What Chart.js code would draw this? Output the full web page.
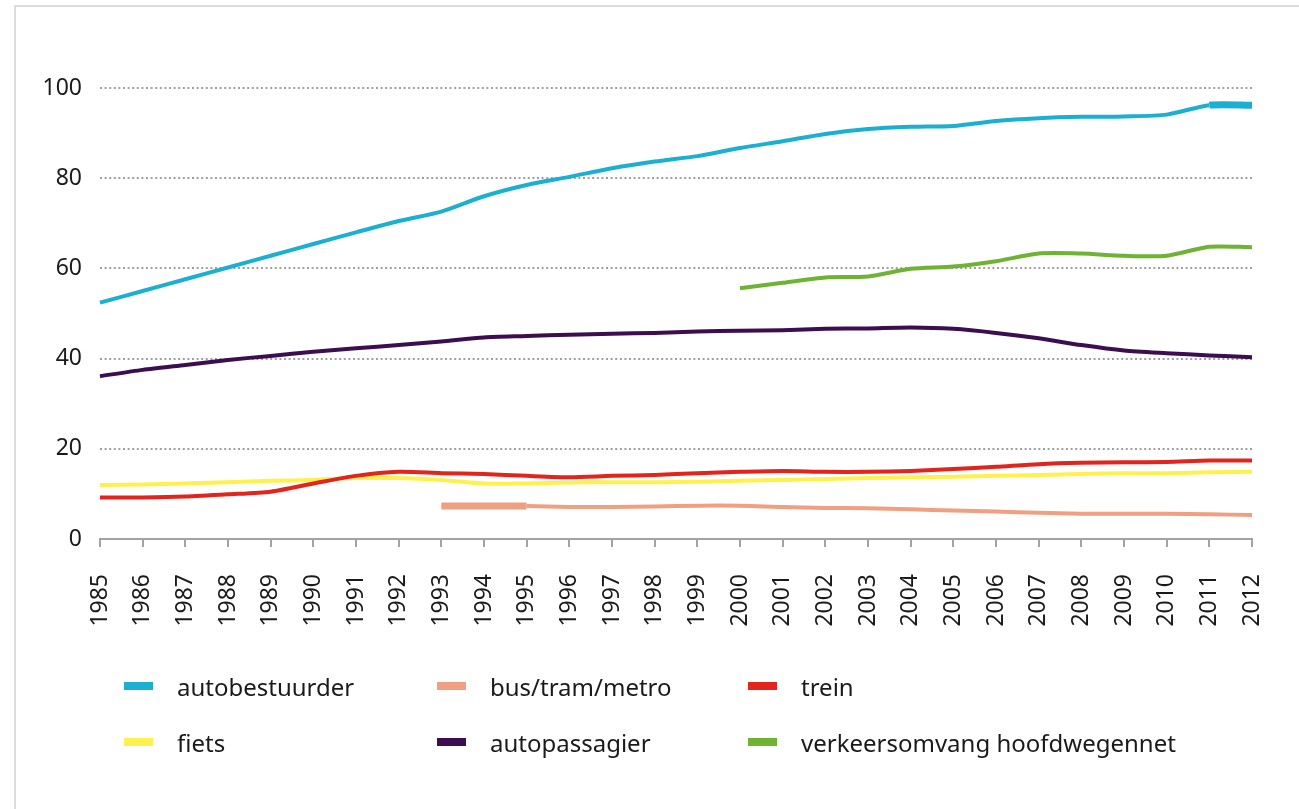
<!DOCTYPE html>
<html>
<head>
<meta charset="utf-8">
<script src="https://cdn.jsdelivr.net/npm/chart.js@4/dist/chart.umd.min.js"></script>
<style>
  html, body { margin: 0; padding: 0; background: #fff; }
  #wrap { position: relative; width: 1299px; height: 809px; overflow: hidden; }
  #frame {
    position: absolute; left: 14px; top: 5px; right: 0; bottom: 0;
    border-top: 2px solid #dcdcdc; border-left: 2px solid #dcdcdc;
  }
  #chart { position: absolute; left: 0; top: 0; }
  .item {
    position: absolute; height: 30px; display: flex; align-items: center;
    font-family: "Noto Sans", sans-serif; font-size: 24px; color: #1a1a1a;
    white-space: nowrap;
  }
  .item i { display: inline-block; width: 29px; height: 8px; margin-right: 24px; }
</style>
</head>
<body>
<div id="wrap">
  <div id="frame"></div>
  <canvas id="chart" width="1299" height="809"></canvas>
  <div id="legend"></div>
</div>
<script>
/* global Chart */
const years = ["1985", "1986", "1987", "1988", "1989", "1990", "1991", "1992", "1993", "1994",
  "1995", "1996", "1997", "1998", "1999", "2000", "2001", "2002", "2003", "2004",
  "2005", "2006", "2007", "2008", "2009", "2010", "2011", "2012"];

const autobestuurder = [52.4, 55.0, 57.6, 60.2, 62.8, 65.4, 68.0, 70.5, 72.6, 76.0,
  78.5, 80.3, 82.2, 83.7, 84.9, 86.7, 88.2, 89.8, 90.9, 91.4,
  91.6, 92.7, 93.3, 93.6, 93.7, 94.1, 96.2, 96.2];

const autopassagier = [36.1, 37.5, 38.6, 39.7, 40.6, 41.5, 42.3, 43.0, 43.8, 44.7,
  45.0, 45.3, 45.5, 45.7, 46.0, 46.2, 46.3, 46.6, 46.7, 46.9,
  46.6, 45.7, 44.5, 43.0, 41.8, 41.2, 40.7, 40.3];

const trein = [9.2, 9.2, 9.4, 9.9, 10.5, 12.3, 14.0, 14.9, 14.6, 14.4,
  14.0, 13.7, 14.0, 14.2, 14.6, 14.9, 15.1, 14.9, 14.9, 15.1,
  15.5, 16.0, 16.6, 16.9, 17.0, 17.1, 17.4, 17.4];

const fiets = [12.0, 12.1, 12.3, 12.6, 12.9, 13.1, 13.5, 13.5, 13.1, 12.3,
  12.3, 12.5, 12.6, 12.6, 12.7, 12.9, 13.1, 13.3, 13.5, 13.7,
  13.8, 14.0, 14.2, 14.4, 14.6, 14.6, 14.8, 14.9];

const busTramMetro = [null, null, null, null, null, null, null, null, 7.3, 7.3,
  7.3, 7.1, 7.1, 7.2, 7.4, 7.4, 7.1, 6.9, 6.8, 6.6,
  6.3, 6.1, 5.8, 5.6, 5.6, 5.6, 5.5, 5.3];

const verkeersomvang = [null, null, null, null, null, null, null, null, null, null,
  null, null, null, null, null, 55.6, 56.8, 58.0, 58.2, 59.9,
  60.4, 61.6, 63.3, 63.3, 62.8, 62.8, 64.8, 64.7];

const yTicks = [0, 20, 40, 60, 80, 100];

function line(label, data, color, thick) {
  return {
    label: label,
    data: data,
    borderColor: color,
    backgroundColor: color,
    borderWidth: 4,
    pointRadius: 0,
    tension: 0.25,
    fill: false,
    segment: {
      // a few stretches are drawn heavier in the original
      borderWidth: (ctx) => (thick && thick(ctx.p0DataIndex) ? 7 : 4),
    },
  };
}

const datasets = [
  line("autobestuurder", autobestuurder, "#1bafd2", (i) => i >= 26),
  line("bus/tram/metro", busTramMetro, "#f0a080", (i) => i >= 8 && i < 10),
  line("trein", trein, "#e3241c"),
  line("fiets", fiets, "#fff14d"),
  line("autopassagier", autopassagier, "#3c0d50"),
  line("verkeersomvang hoofdwegennet", verkeersomvang, "#6fb234"),
];

const chart = new Chart(document.getElementById("chart"), {
  type: "line",
  data: { labels: years, datasets: datasets },
  options: {
    responsive: false,
    animation: false,
    layout: { padding: { top: 88, right: 47, left: 0, bottom: 0 } },
    scales: {
      x: {
        offset: false,
        afterFit: (scale) => {
          scale.height = 270;
          // keep the plot edge fixed, the rotated labels fit anyway
          scale.paddingLeft = 0;
          scale.paddingRight = 0;
        },
        grid: {
          drawOnChartArea: false,
          drawTicks: true,
          tickLength: 8,
          color: "#a3a3a3",
          lineWidth: 2,
        },
        border: { display: true, color: "#a3a3a3", width: 2 },
        ticks: {
          autoSkip: false,
          maxRotation: 90,
          minRotation: 90,
          padding: 27,
          color: "#1a1a1a",
          font: { family: "Noto Sans", size: 23 },
        },
      },
      y: {
        min: 0,
        max: 100,
        afterFit: (scale) => { scale.width = 100; },
        afterBuildTicks: (scale) => { scale.ticks = yTicks.map((v) => ({ value: v })); },
        grid: {
          drawTicks: false,
          color: (ctx) => (ctx.tick && ctx.tick.value === 0 ? "rgba(0,0,0,0)" : "#a0a0a0"),
          lineWidth: 2,
        },
        border: { display: false, dash: [2, 2.6] },
        ticks: {
          padding: 18,
          color: "#1a1a1a",
          font: { family: "Noto Sans", size: 23 },
        },
      },
    },
    plugins: {
      legend: { display: false },
      tooltip: { enabled: false },
    },
  },
});

// legend in three columns, two rows, like the original
const legendCols = [124, 437, 748];
const legendRows = [671, 727];
const legendOrder = [0, 1, 2, 3, 4, 5];
const legend = document.getElementById("legend");
legendOrder.forEach((dsIndex, n) => {
  const ds = chart.data.datasets[dsIndex];
  const el = document.createElement("div");
  el.className = "item";
  el.style.left = legendCols[n % 3] + "px";
  el.style.top = legendRows[Math.floor(n / 3)] + "px";
  const mark = document.createElement("i");
  mark.style.background = ds.borderColor;
  el.appendChild(mark);
  el.appendChild(document.createTextNode(ds.label));
  legend.appendChild(el);
});
</script>
</body>
</html>
